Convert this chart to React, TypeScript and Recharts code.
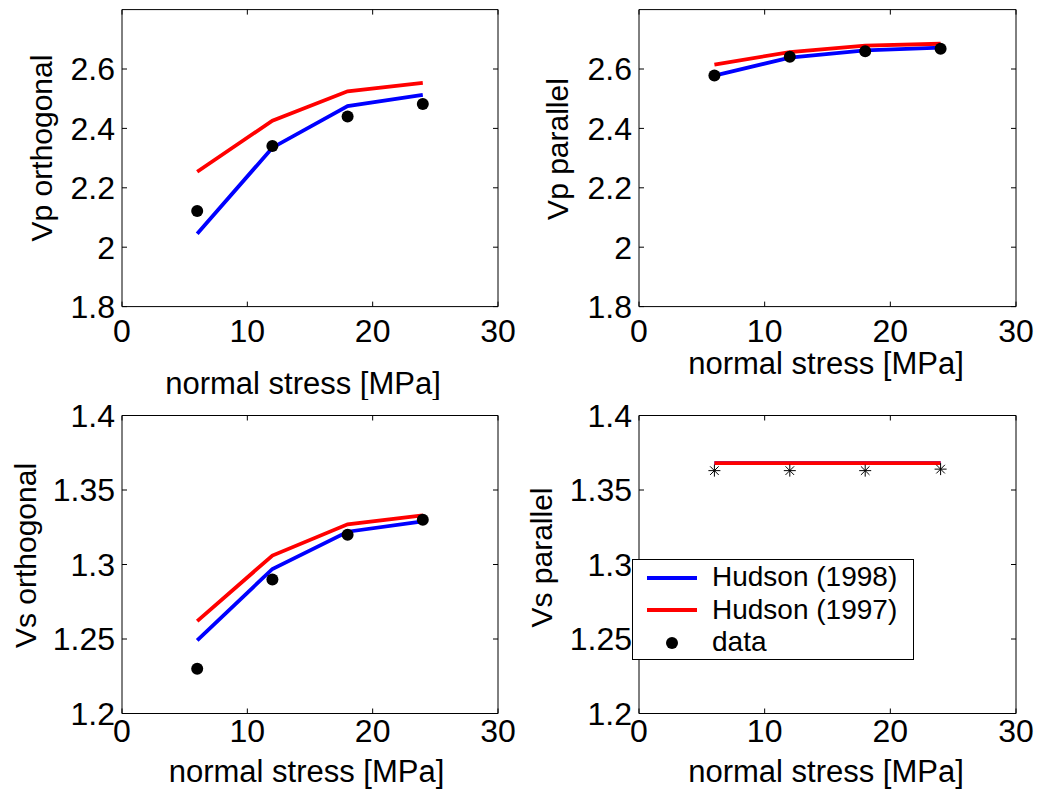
import React from 'react';
import { ComposedChart, Line, Scatter, XAxis, YAxis, Legend, Label } from 'recharts';

// normal stress [MPa] at which everything was measured / modelled
const stress = [6, 12, 18, 24];

// Vp orthogonal
const vpOrthHudson98 = [2.045, 2.335, 2.475, 2.513];
const vpOrthHudson97 = [2.254, 2.426, 2.525, 2.553];
const vpOrthData = [2.122, 2.341, 2.44, 2.482];

// Vp parallel
const vpParHudson98 = [2.578, 2.638, 2.663, 2.672];
const vpParHudson97 = [2.615, 2.657, 2.679, 2.685];
const vpParData = [2.578, 2.641, 2.66, 2.668];

// Vs orthogonal
const vsOrthHudson98 = [1.249, 1.297, 1.322, 1.329];
const vsOrthHudson97 = [1.262, 1.306, 1.327, 1.333];
const vsOrthData = [1.23, 1.29, 1.32, 1.33];

// Vs parallel
const vsParHudson98 = [1.368, 1.368, 1.368, 1.368];
const vsParHudson97 = [1.368, 1.368, 1.368, 1.368];
const vsParData = [1.363, 1.363, 1.363, 1.364];

const xTicks = [0, 10, 20, 30];
const vpTicks = [1.8, 2, 2.2, 2.4, 2.6];
const vsTicks = [1.2, 1.25, 1.3, 1.35, 1.4];
const legendNames = ['Hudson (1998)', 'Hudson (1997)', 'data'];

const BLUE = '#0000ff';
const RED = '#ff0000';
const INK = '#000';

const buildRows = (h98: number[], h97: number[], obs: number[]) =>
  stress.map((x, i) => ({ x, h98: h98[i], h97: h97[i], obs: obs[i] }));

const Dot = (props: any) => <circle cx={props.cx} cy={props.cy} r={6} fill={INK} />;

const Star = (props: any) => {
  const { cx, cy } = props;
  const a = 6;
  const d = 4.3;
  return (
    <g stroke={INK} strokeWidth={1}>
      <line x1={cx - a} y1={cy} x2={cx + a} y2={cy} />
      <line x1={cx} y1={cy - a} x2={cx} y2={cy + a} />
      <line x1={cx - d} y1={cy - d} x2={cx + d} y2={cy + d} />
      <line x1={cx - d} y1={cy + d} x2={cx + d} y2={cy - d} />
    </g>
  );
};

const renderLegend = () => (
  <div
    style={{
      position: 'relative',
      width: 282,
      height: 101,
      boxSizing: 'border-box',
      border: '1px solid #000',
      background: '#fff',
      fontSize: 28,
      color: '#000',
    }}
  >
    {legendNames.map((name, i) => (
      <div key={name} style={{ position: 'absolute', left: 0, top: 1 + i * 32.5, height: 32.5, width: 280 }}>
        {i < 2 ? (
          <div style={{ position: 'absolute', left: 14, top: 14.5, width: 50, height: 4, background: i === 0 ? BLUE : RED }} />
        ) : (
          <div style={{ position: 'absolute', left: 33, top: 10.5, width: 12, height: 12, borderRadius: 6, background: INK }} />
        )}
        <div style={{ position: 'absolute', left: 79, top: 0, lineHeight: '32.5px', whiteSpace: 'nowrap' }}>{name}</div>
      </div>
    ))}
  </div>
);

interface Panel {
  key: string;
  left: number;
  top: number;
  width: number;
  height: number;
  marginTop: number;
  marginRight: number;
  yAxisWidth: number;
  xAxisHeight: number;
  tickGap: number;
  yDomain: [number, number];
  yTicks: number[];
  yLabel: string;
  yLabelX: number;
  yLabelY: number;
  xLabelX: number;
  xLabelY: number;
  rows: { x: number; h98: number; h97: number; obs: number }[];
  star?: boolean;
  legend?: boolean;
}

// marginTop / marginRight leave 1px for the mirrored frame axes (top and right)
const panels: Panel[] = [
  {
    key: 'vpo', left: 0, top: 0, width: 520, height: 400, marginTop: 8.6, marginRight: 21,
    yAxisWidth: 122, xAxisHeight: 93.4, tickGap: 18, yDomain: [1.8, 2.8], yTicks: vpTicks,
    yLabel: 'Vp orthogonal', yLabelX: 52, yLabelY: 148, xLabelX: 303, xLabelY: 394,
    rows: buildRows(vpOrthHudson98, vpOrthHudson97, vpOrthData),
  },
  {
    key: 'vpp', left: 520, top: 0, width: 519, height: 400, marginTop: 8.6, marginRight: 22,
    yAxisWidth: 119, xAxisHeight: 93.4, tickGap: 18, yDomain: [1.8, 2.8], yTicks: vpTicks,
    yLabel: 'Vp parallel', yLabelX: 48, yLabelY: 149, xLabelX: 306, xLabelY: 374,
    rows: buildRows(vpParHudson98, vpParHudson97, vpParData),
  },
  {
    key: 'vso', left: 0, top: 380, width: 520, height: 411, marginTop: 34.5, marginRight: 21,
    yAxisWidth: 122, xAxisHeight: 77.5, tickGap: 11, yDomain: [1.2, 1.4], yTicks: vsTicks,
    yLabel: 'Vs orthogonal', yLabelX: 36, yLabelY: 175.5, xLabelX: 306.5, xLabelY: 402,
    rows: buildRows(vsOrthHudson98, vsOrthHudson97, vsOrthData),
  },
  {
    key: 'vsp', left: 520, top: 380, width: 519, height: 411, marginTop: 34.5, marginRight: 22,
    yAxisWidth: 119, xAxisHeight: 77.5, tickGap: 11, yDomain: [1.2, 1.4], yTicks: vsTicks,
    yLabel: 'Vs parallel', yLabelX: 32, yLabelY: 177.5, xLabelX: 306, xLabelY: 402,
    rows: buildRows(vsParHudson98, vsParHudson97, vsParData), star: true, legend: true,
  },
];

const blank = () => '';

const SubPlot = ({ p }: { p: Panel }) => (
  <div style={{ position: 'absolute', left: p.left, top: p.top }}>
    <ComposedChart
      width={p.width}
      height={p.height}
      data={p.rows}
      margin={{ top: p.marginTop, right: p.marginRight, bottom: 0, left: 0 }}
    >
      <XAxis
        xAxisId="b"
        dataKey="x"
        type="number"
        domain={[0, 30]}
        ticks={xTicks}
        interval={0}
        allowDataOverflow
        height={p.xAxisHeight}
        tickSize={-5}
        tickMargin={p.tickGap}
        tick={{ fill: INK, fontSize: 32 }}
        axisLine={{ stroke: INK }}
        tickLine={{ stroke: INK }}
      >
        <Label
          content={() => (
            <text x={p.xLabelX} y={p.xLabelY} textAnchor="middle" fontSize={31} fill={INK}>
              normal stress [MPa]
            </text>
          )}
        />
      </XAxis>
      <XAxis
        xAxisId="t"
        dataKey="x"
        type="number"
        orientation="top"
        domain={[0, 30]}
        ticks={xTicks}
        interval={0}
        allowDataOverflow
        height={1}
        tickSize={-5}
        tickFormatter={blank}
        axisLine={{ stroke: INK }}
        tickLine={{ stroke: INK }}
      />
      <YAxis
        yAxisId="l"
        type="number"
        domain={p.yDomain}
        ticks={p.yTicks}
        interval={0}
        allowDataOverflow
        width={p.yAxisWidth}
        tickSize={-5}
        tickMargin={12}
        tickFormatter={(v: number) => String(v)}
        tick={{ fill: INK, fontSize: 32 }}
        axisLine={{ stroke: INK }}
        tickLine={{ stroke: INK }}
      >
        <Label
          content={() => (
            <text
              x={p.yLabelX}
              y={p.yLabelY}
              transform={`rotate(-90 ${p.yLabelX} ${p.yLabelY})`}
              textAnchor="middle"
              fontSize={30}
              fill={INK}
            >
              {p.yLabel}
            </text>
          )}
        />
      </YAxis>
      <YAxis
        yAxisId="r"
        type="number"
        orientation="right"
        domain={p.yDomain}
        ticks={p.yTicks}
        interval={0}
        allowDataOverflow
        width={1}
        tickSize={-5}
        tickFormatter={blank}
        axisLine={{ stroke: INK }}
        tickLine={{ stroke: INK }}
      />
      <Line xAxisId="b" yAxisId="l" dataKey="h98" stroke={BLUE} strokeWidth={3.8} dot={false} activeDot={false} isAnimationActive={false} />
      <Line xAxisId="b" yAxisId="l" dataKey="h97" stroke={RED} strokeWidth={3.8} dot={false} activeDot={false} isAnimationActive={false} />
      <Scatter xAxisId="b" yAxisId="l" dataKey="obs" shape={p.star ? Star : Dot} isAnimationActive={false} />
      {p.legend && (
        <Legend
          layout="vertical"
          align="center"
          verticalAlign="middle"
          content={renderLegend}
          wrapperStyle={{ left: 112, top: 179, width: 282, height: 101 }}
        />
      )}
    </ComposedChart>
  </div>
);

export default function App() {
  return (
    <div
      style={{
        position: 'absolute',
        left: 0,
        top: 0,
        width: 1039,
        height: 791,
        background: '#fff',
        fontFamily: '"Liberation Sans", Arial, Helvetica, sans-serif',
      }}
    >
      {panels.map((p) => (
        <SubPlot key={p.key} p={p} />
      ))}
    </div>
  );
}
